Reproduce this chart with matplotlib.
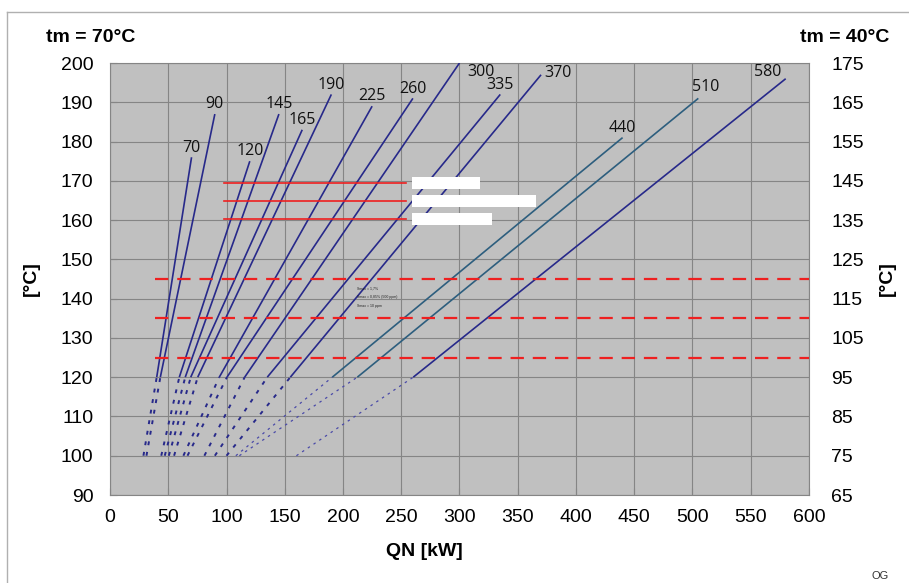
import matplotlib.pyplot as plt
from matplotlib.patches import Rectangle
from matplotlib.lines import Line2D

plt.rcParams['font.family'] = ['Liberation Sans', 'DejaVu Sans']

# curve labels (QN in kW) and read-off points of each curve
qn_labels = ['70', '90', '120', '145', '165', '190', '225', '260',
             '300', '335', '370', '440', '510', '580']
x_top = [70, 90, 120, 145, 165, 190, 225, 260, 300, 335, 370, 440, 505, 580]
y_top = [176, 187, 175, 187, 183, 192, 189, 191, 200, 192, 197, 181, 191, 196]
x_at_120 = [40.1, 43.2, 59.5, 64.6, 69.3, 75.3, 93.8, 100.4, 115.6, 135,
            154.8, 190.8, 212.3, 260.3]
x_at_100 = [28.7, 31.3, 44, 47, 50.5, 55, 63, 66.5, 81, 90, 100, 108, 111, 160]
teal_curves = ['440', '510']

# red reference lines
red_solid_y = [169.5, 164.8, 160.2]
red_solid_x = [97.5, 254]
red_dashed_y = [145, 135, 125]
red_dashed_x = [39, 600]

# blank white boxes next to the red lines
box_x0 = 259
box_widths = [59, 107, 68.5]
box_height = 3.0

note_lines = ['Smax = 1,7%', 'Smax = 0,85% (500 ppm)', 'Smax = 10 ppm']
note_y = [142.7, 140.4, 138.1]

label_offsets = {'300': (15.5, -6.5), '370': (12, 1.5), '580': (-13, 4.5),
                 '510': (5, 8.5)}

fig = plt.figure(figsize=(9.09, 5.83), dpi=100)
ax = fig.add_axes([110 / 909, 88 / 583, 699 / 909, 432 / 583])
ax.set_facecolor('#c0c0c0')

navy = '#27298a'
teal = '#2d5e7e'

for lab, xt, yt, x1, x0 in zip(qn_labels, x_top, y_top, x_at_120, x_at_100):
    col = teal if lab in teal_curves else navy
    ax.plot([x1, xt], [120, yt], color=col, lw=1.2, solid_capstyle='butt',
            zorder=3)
    thin = lab in ['440', '510', '580']
    ax.plot([x0, x1], [100, 120], color='#4a4aa8' if thin else navy,
            lw=0.9 if thin else 1.4, ls=(0, (2, 3.5)), zorder=3)
    dx, dy = label_offsets.get(lab, (0, 7))
    ax.annotate(lab, (min(xt, 600), min(yt, 200)), xytext=(dx, dy),
                textcoords='offset points', ha='center', va='center',
                fontsize=11.5, family='Open Sans', color='#111111',
                annotation_clip=False, zorder=5)

for y in red_solid_y:
    ax.plot(red_solid_x, [y, y], color='#ee2020', lw=1.2, zorder=4)
for y in red_dashed_y:
    ax.plot(red_dashed_x, [y, y], color='#ee2020', lw=1.6,
            ls=(0, (6, 4)), zorder=4)

for y, w in zip(red_solid_y, box_widths):
    ax.add_patch(Rectangle((box_x0, y - box_height / 2), w, box_height,
                           facecolor='white', edgecolor='none', zorder=5))

for t, y in zip(note_lines, note_y):
    ax.text(212, y, t, fontsize=2.5, va='center', color='#222222', zorder=5)

ax.set_xlim(0, 600)
ax.set_ylim(90, 200)
ax.set_xticks(range(0, 601, 50))
ax.set_yticks(range(90, 201, 10))
ax.grid(True, color='#858585', lw=0.8)
ax.set_axisbelow(True)
for s in ax.spines.values():
    s.set_color('#858585')
ax.tick_params(direction='in', length=5, color='#858585', labelsize=14,
               pad=12)
ax.tick_params(axis='x', pad=10)

ax2 = ax.twinx()
ax2.set_ylim(65, 175)
ax2.set_yticks(range(65, 176, 10))
ax2.tick_params(direction='in', length=0, labelsize=14, pad=16)
for s in ax2.spines.values():
    s.set_visible(False)

ax.set_xlabel('QN [kW]', fontsize=14, fontweight='bold')
ax.xaxis.set_label_coords((424 - 110) / 699, (495 - 551) / 432)
ax.xaxis.label.set_va('center')
ax.set_ylabel('[°C]', fontsize=14, fontweight='bold')
ax.yaxis.set_label_coords((40 - 110) / 699, 0.5)
ax2.set_ylabel('[°C]', fontsize=14, fontweight='bold', rotation=90)
ax2.yaxis.set_label_coords((879 - 110) / 699, 0.5)

fig.text(91 / 909, 1 - 37 / 583, 'tm = 70°C', fontsize=14, fontweight='bold',
         ha='center', va='center')
fig.text(845 / 909, 1 - 37 / 583, 'tm = 40°C', fontsize=14, fontweight='bold',
         ha='center', va='center')
fig.text(880 / 909, 1 - 576 / 583, 'OG', fontsize=8, ha='center',
         va='center', color='#333333')

# thin frame along the top and left of the picture
fig.add_artist(Line2D([7 / 909, 1], [1 - 12 / 583] * 2, color='#b0b0b0', lw=1))
fig.add_artist(Line2D([7 / 909] * 2, [0, 1 - 12 / 583], color='#b0b0b0', lw=1))

fig.savefig('out.png', dpi=100)
